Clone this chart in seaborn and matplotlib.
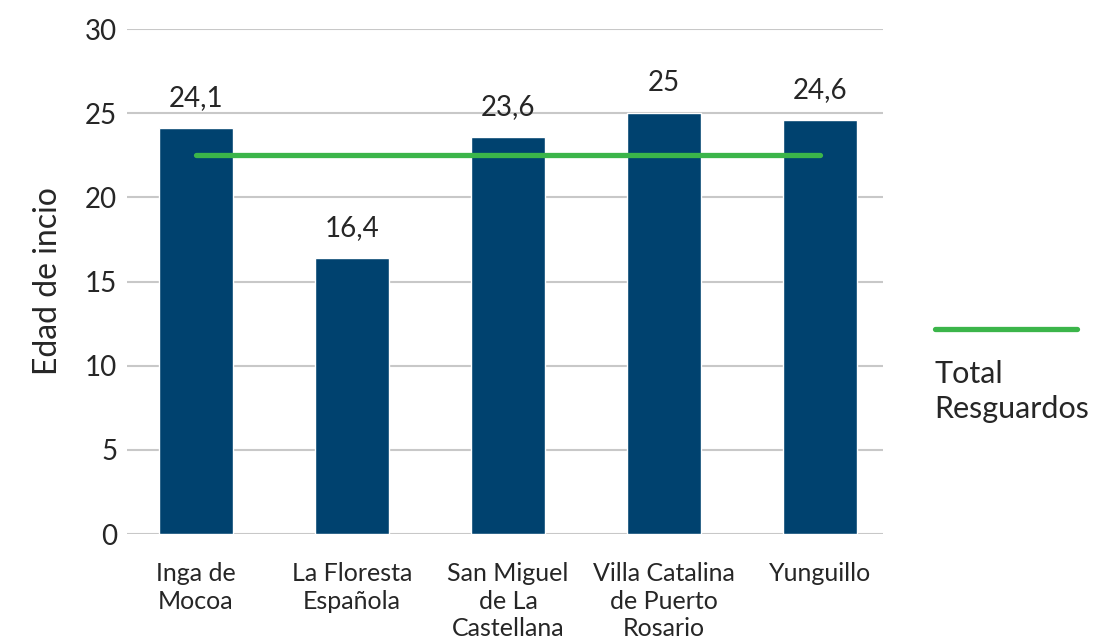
import matplotlib.pyplot as plt
from matplotlib.lines import Line2D
import seaborn as sns
import pandas as pd

# values
resguardos = ['Inga de\nMocoa', 'La Floresta\nEspañola', 'San Miguel\nde La\nCastellana',
              'Villa Catalina\nde Puerto\nRosario', 'Yunguillo']
edad_inicio = [24.1, 16.4, 23.6, 25.0, 24.6]
edad_labels = ['24,1', '16,4', '23,6', '25', '24,6']
total_resguardos = [22.5, 22.5, 22.5, 22.5, 22.5]

df = pd.DataFrame({'resguardo': resguardos, 'edad': edad_inicio, 'total': total_resguardos})

sns.set_style('white')
plt.rcParams['font.family'] = ['Lato', 'DejaVu Sans']

bar_color = '#00426f'
line_color = '#3bb54a'
text_color = '#262626'

fig = plt.figure(figsize=(11.01, 6.39), dpi=100)
ax = fig.add_axes([0.1153, 0.1643, 0.6867, 0.7903])

sns.barplot(data=df, x='resguardo', y='edad', color=bar_color, width=0.474,
            saturation=1, ax=ax, zorder=2)
ax.plot(range(len(resguardos)), df['total'], color=line_color, lw=3.8,
        solid_capstyle='round', zorder=3)

for i, (v, lab) in enumerate(zip(edad_inicio, edad_labels)):
    ax.text(i, v + 1.0, lab, ha='center', va='bottom', fontsize=20, color=text_color)

ax.set_ylim(0, 30)
ax.set_yticks(range(0, 31, 5))
ax.set_xlim(-0.442, 4.404)
ax.yaxis.grid(True, color='#c8c8c8', lw=1.5, zorder=0)
ax.set_axisbelow(True)
for s in ax.spines.values():
    s.set_visible(False)
ax.tick_params(axis='y', length=0, labelsize=20, colors=text_color, pad=7)
ax.tick_params(axis='x', length=0, labelsize=18, colors=text_color, pad=20)
for t in ax.get_xticklabels():
    t.set_linespacing(1.25)
ax.set_xlabel('')
ax.set_ylabel('Edad de incio', fontsize=23, color=text_color, labelpad=16)

# legend drawn by hand: line above the text
fig.add_artist(Line2D([0.849, 0.978], [0.485, 0.485], transform=fig.transFigure,
                      color=line_color, lw=3.8, solid_capstyle='round'))
fig.text(0.849, 0.437, 'Total\nResguardos', ha='left', va='top', fontsize=22,
         color=text_color, linespacing=1.3)

fig.savefig('out.png', dpi=100)
